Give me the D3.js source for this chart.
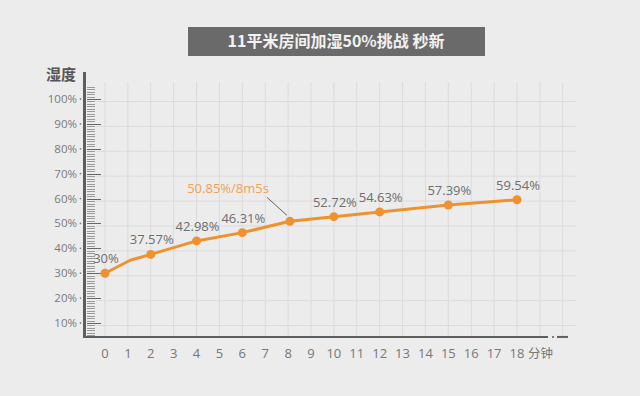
<!DOCTYPE html>
<html>
<head>
<meta charset="utf-8">
<script src="https://cdn.jsdelivr.net/npm/d3@7"></script>
<style>
  html, body { margin: 0; padding: 0; background: #ebebeb; }
  svg { display: block; }
</style>
</head>
<body>
<div class="myViz"></div>
<script>
// chart data
var title = "11平米房间加湿50%挑战 秒新";
var minutes  = [0, 1.1, 2, 4, 6, 8.08, 10, 12, 15, 18];
var humidity = [30, 35.2, 37.57, 42.98, 46.31, 50.85, 52.72, 54.63, 57.39, 59.54];
var pointLabels = ["30%", "", "37.57%", "42.98%", "46.31%", "", "52.72%", "54.63%", "57.39%", "59.54%"];
var marked = [1, 0, 1, 1, 1, 1, 1, 1, 1, 1];
var callout = "50.85%/8m5s";
var calloutIndex = 5;
var xTicks = d3.range(0, 19);
var yTicks = [10, 20, 30, 40, 50, 60, 70, 80, 90, 100];
var yName = "湿度";
var xName = "分钟";

var width = 640, height = 396;

var svg = d3.select(".myViz")
  .append("svg")
  .attr("width", width)
  .attr("height", height);

svg.append("rect").attr("width", width).attr("height", height).attr("fill", "#ececec");

// scales
var x = d3.scaleLinear().domain([0, 18]).range([105, 517]);
var y = d3.scaleLinear().domain([10, 100]).range([323, 99]);
var axisY = y(4.4);

// title box
svg.append("rect")
  .attr("x", 188).attr("y", 27).attr("width", 297).attr("height", 29)
  .attr("fill", "#6a6a6a");
svg.append("text")
  .attr("x", 336).attr("y", 47)
  .attr("text-anchor", "middle")
  .style("font-family", "'Noto Sans CJK SC', 'Noto Sans', sans-serif")
  .style("font-weight", "bold")
  .style("font-size", "16px")
  .attr("fill", "#f2f2f2")
  .text(title);

// grid
var grid = svg.append("g");
grid.selectAll(".vg")
  .data(d3.range(0, 21))
  .enter().append("line")
  .attr("x1", d => x(d)).attr("x2", d => x(d))
  .attr("y1", 82).attr("y2", axisY)
  .attr("stroke", "#dbdbdb").attr("stroke-width", 1);
grid.selectAll(".hg")
  .data(yTicks)
  .enter().append("line")
  .attr("x1", 96).attr("x2", 576)
  .attr("y1", d => y(d) + 2.5).attr("y2", d => y(d) + 2.5)
  .attr("stroke", "#dbdbdb").attr("stroke-width", 1);

// y axis ruler
var ruler = svg.append("g");
ruler.selectAll(".minor")
  .data(d3.range(5, 106))
  .enter().append("line")
  .attr("x1", 87).attr("x2", d => d % 10 === 0 ? 101 : 95)
  .attr("y1", d => Math.round(y(d)) + 0.5).attr("y2", d => Math.round(y(d)) + 0.5)
  .attr("stroke", d => d % 10 === 0 ? "#666" : "#9a9a9a")
  .attr("stroke-width", 1);
ruler.append("line")
  .attr("x1", 84.5).attr("x2", 84.5)
  .attr("y1", 72).attr("y2", axisY + 1)
  .attr("stroke", "#5e5e5e").attr("stroke-width", 3);

// y labels
var yl = svg.append("g");
yl.selectAll("text")
  .data(yTicks)
  .enter().append("text")
  .attr("x", 77).attr("y", d => y(d) + 4)
  .attr("text-anchor", "end")
  .style("font-family", "'Open Sans', sans-serif")
  .style("font-size", "11.5px")
  .attr("fill", "#7a7a7a")
  .text(d => d + "%");
yl.selectAll("circle")
  .data(yTicks)
  .enter().append("circle")
  .attr("cx", 80.5).attr("cy", d => y(d))
  .attr("r", 0.9).attr("fill", "#888");

svg.append("text")
  .attr("x", 46).attr("y", 80)
  .style("font-family", "'Noto Sans CJK SC', sans-serif")
  .style("font-weight", "bold")
  .style("font-size", "15px")
  .attr("fill", "#555")
  .text(yName);

// x axis line
svg.append("line")
  .attr("x1", 83).attr("x2", 548)
  .attr("y1", axisY).attr("y2", axisY)
  .attr("stroke", "#5e5e5e").attr("stroke-width", 2);
svg.append("circle").attr("cx", 553).attr("cy", axisY).attr("r", 1).attr("fill", "#5e5e5e");
svg.append("line")
  .attr("x1", 557).attr("x2", 568)
  .attr("y1", axisY).attr("y2", axisY)
  .attr("stroke", "#5e5e5e").attr("stroke-width", 2);

// x labels
svg.append("g").selectAll("text")
  .data(xTicks)
  .enter().append("text")
  .attr("x", d => x(d)).attr("y", 358)
  .attr("text-anchor", "middle")
  .style("font-family", "'Open Sans', sans-serif")
  .style("font-size", "13px")
  .attr("fill", "#777")
  .text(d => d);
svg.append("text")
  .attr("x", x(18) + 11).attr("y", 358)
  .style("font-family", "'Noto Sans CJK SC', sans-serif")
  .style("font-size", "12.5px")
  .attr("fill", "#777")
  .text(xName);

// line + points
var pts = minutes.map((m, i) => ({m: m, v: humidity[i], label: pointLabels[i], mark: marked[i]}));
var orange = "#ef922e";

svg.append("path")
  .datum(pts)
  .attr("d", d3.line().x(d => x(d.m)).y(d => y(d.v)))
  .attr("fill", "none")
  .attr("stroke", orange)
  .attr("stroke-width", 3)
  .attr("stroke-linejoin", "round");

svg.append("g").selectAll("circle")
  .data(pts.filter(d => d.mark))
  .enter().append("circle")
  .attr("cx", d => x(d.m)).attr("cy", d => y(d.v))
  .attr("r", 4.5).attr("fill", orange);

svg.append("g").selectAll("text")
  .data(pts.filter(d => d.label))
  .enter().append("text")
  .attr("x", d => x(d.m) + 1).attr("y", d => y(d.v) - 10)
  .attr("text-anchor", "middle")
  .style("font-family", "'Open Sans', sans-serif")
  .style("font-size", "13px")
  .attr("fill", "#6e6e6e")
  .text(d => d.label);

// callout for the 50% mark
var cp = pts[calloutIndex];
svg.append("text")
  .attr("x", x(cp.m) - 21).attr("y", y(cp.v) - 28)
  .attr("text-anchor", "end")
  .style("font-family", "'Open Sans', sans-serif")
  .style("font-size", "13px")
  .attr("fill", "#f0a05a")
  .text(callout);
svg.append("line")
  .attr("x1", x(cp.m) - 23).attr("y1", y(cp.v) - 24)
  .attr("x2", x(cp.m) - 3).attr("y2", y(cp.v) - 6)
  .attr("stroke", "#666").attr("stroke-width", 1);
</script>
</body>
</html>
